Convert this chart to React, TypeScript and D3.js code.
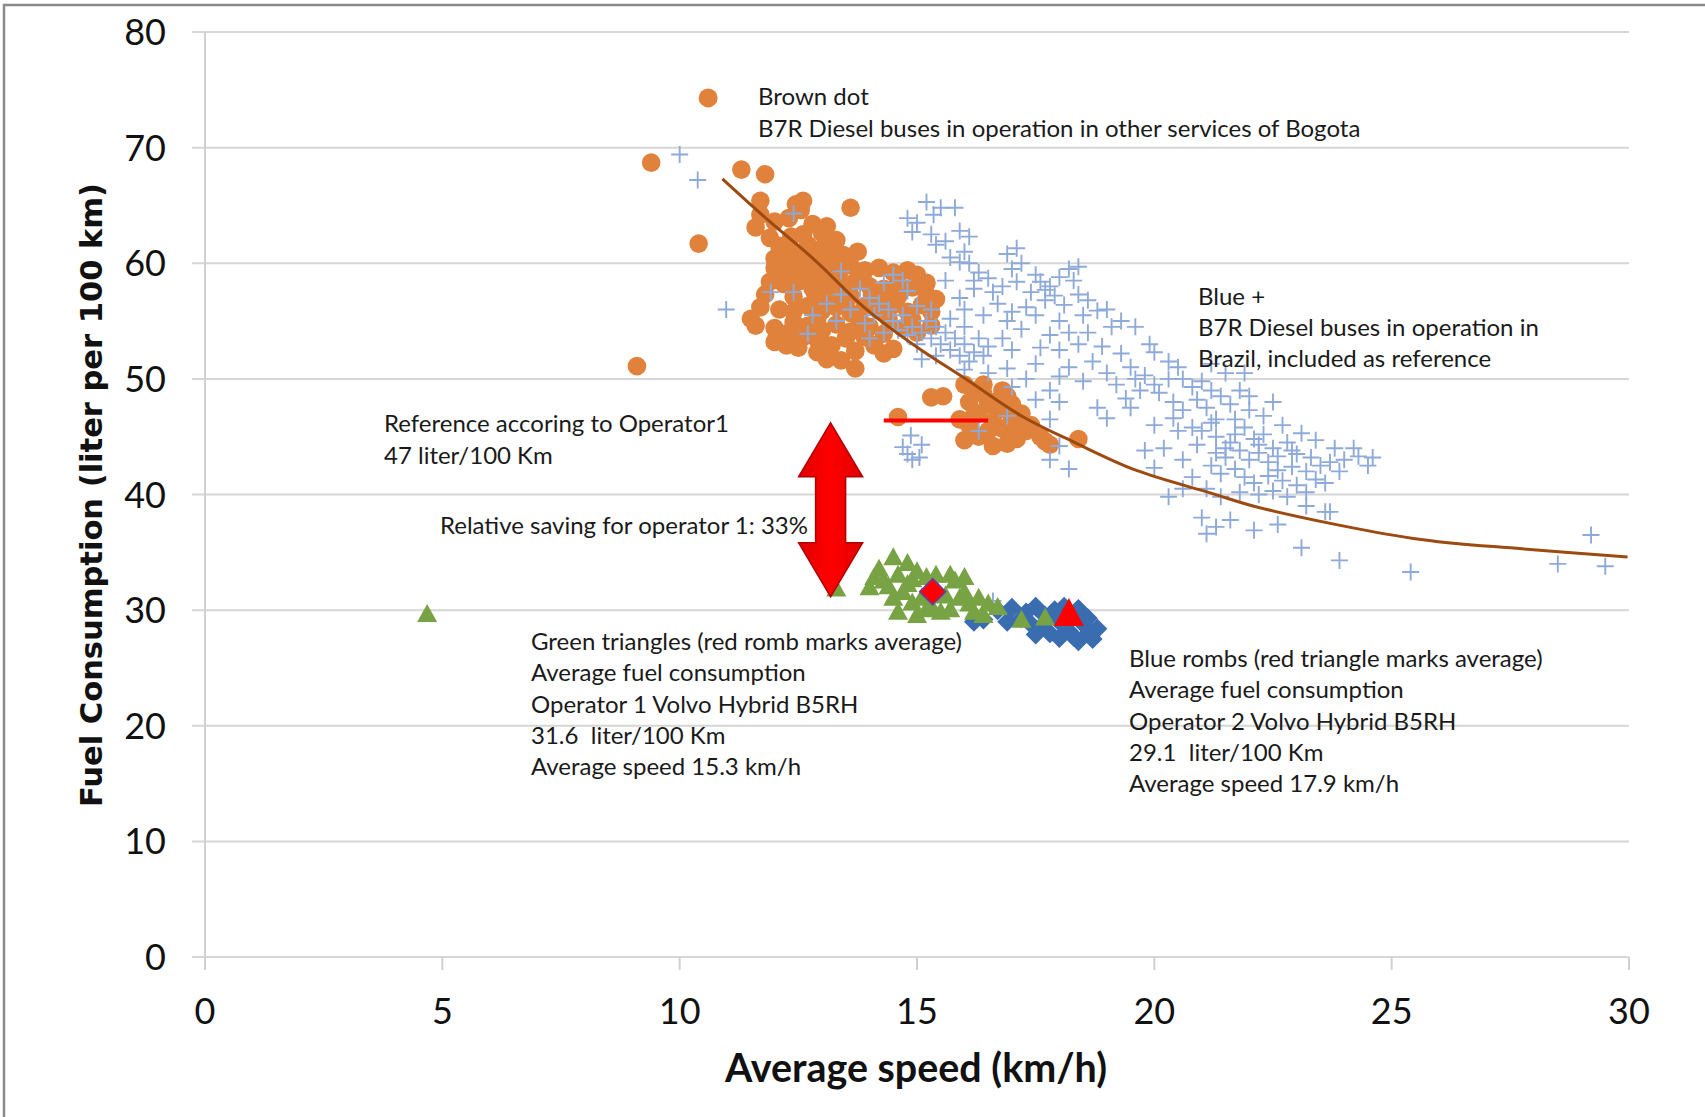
import React from "react";
import * as d3 from "d3";

const X_TICKS = [0, 5, 10, 15, 20, 25, 30];
const Y_TICKS = [0, 10, 20, 30, 40, 50, 60, 70, 80];

// Brown dots: B7R Diesel buses in other services of Bogota [speed, consumption]
const brownDots: [number, number][] = [
  [9.4, 68.7], [10.4, 61.7], [9.1, 51.1], [11.3, 68.1], [11.8, 67.7], [13.6, 64.8],
  [11.7, 65.4], [12.45, 65.1], [12.6, 65.4], [12.55, 64.6],
  [11.7, 64.2], [11.6, 63.1], [12.0, 63.6], [12.3, 63.9], [12.8, 63.4], [13.1, 63.2], [13.0, 62.6], [12.6, 62.5], [11.9, 62.2],
  [12.1, 61.5], [12.4, 61.0], [12.7, 61.6], [13.0, 61.3], [13.3, 62.0], [12.2, 60.5], [12.9, 60.2], [13.2, 60.6],
  [12.0, 59.6], [12.3, 59.3], [12.6, 59.8], [12.9, 59.2], [13.3, 59.5], [13.6, 59.8], [13.9, 59.4], [14.2, 59.6], [14.5, 59.2], [14.8, 59.4], [15.0, 59.0],
  [12.2, 58.2], [12.5, 58.4], [12.8, 57.8], [13.1, 58.3], [13.4, 57.7], [13.7, 58.4], [14.0, 58.0], [14.3, 57.8], [14.6, 58.2], [14.9, 57.9], [15.2, 58.3], [12.4, 57.1], [13.0, 57.0], [13.6, 57.2],
  [11.8, 57.3], [11.7, 56.2], [12.1, 56.0], [12.4, 55.8], [12.7, 56.3], [13.0, 55.9], [13.3, 56.2], [13.6, 55.7], [13.9, 56.3], [14.2, 55.9], [14.5, 56.4], [14.8, 55.8], [15.1, 56.4], [15.3, 55.8], [11.5, 55.2], [15.4, 56.9],
  [11.6, 54.6], [12.0, 54.4], [12.3, 54.0], [12.7, 54.6], [13.0, 54.2], [13.3, 54.7], [13.6, 54.1], [14.0, 54.5], [14.3, 53.9], [14.7, 54.4], [15.0, 54.0], [15.3, 54.6], [12.9, 53.4], [13.5, 53.5],
  [12.0, 53.2], [12.5, 52.7], [12.9, 52.3], [13.2, 52.9], [13.7, 52.4], [14.1, 52.9], [14.5, 52.6], [13.7, 50.9], [13.4, 51.6],
  [12.35, 62.3], [12.75, 60.8], [13.05, 60.0], [12.45, 59.9], [12.15, 58.8], [12.6, 58.9], [13.35, 58.9], [13.85, 58.8], [13.2, 57.5],
  [12.85, 56.8], [13.5, 56.6], [14.05, 57.3], [14.6, 57.1], [14.25, 56.8], [12.9, 55.2], [12.4, 54.9], [13.8, 55.0], [14.4, 55.2],
  [14.9, 55.1], [15.2, 57.3], [13.9, 53.6], [12.6, 53.6], [12.25, 52.9], [13.1, 51.7], [14.3, 52.2], [11.9, 58.4], [12.0, 60.4],
  [12.55, 60.2], [13.45, 60.7], [13.75, 61.0],
  [14.6, 46.7], [15.3, 48.4], [15.55, 48.5],
  [16.0, 49.5], [16.2, 49.0], [16.4, 48.7], [16.1, 48.0], [16.5, 47.8], [16.3, 47.0], [16.7, 47.3], [16.9, 48.5], [16.6, 46.3], [16.8, 45.7],
  [17.0, 46.5], [17.2, 47.0], [17.3, 45.5], [17.1, 44.8], [16.9, 44.4], [16.6, 44.2], [16.3, 45.0], [16.1, 46.0], [16.0, 44.7], [15.9, 46.5],
  [16.4, 49.5], [16.8, 49.0], [17.0, 47.8], [17.4, 46.0], [17.6, 45.0], [17.8, 44.3], [17.7, 44.6], [18.4, 44.8],
  [16.2, 46.8], [16.5, 45.5], [16.7, 48.1], [17.1, 45.8],
];

// Blue crosses: B7R Diesel buses in Brazil
const bluePlus: [number, number][] = [
  [10.0, 69.4], [10.38, 67.2], [10.98, 56.0], [11.92, 57.5], [12.4, 64.3],
  [13.8, 57.8], [14.0, 57.0], [14.2, 56.5], [14.4, 56.0], [14.1, 55.5], [14.5, 55.0], [14.7, 55.5], [14.9, 54.5], [15.1, 54.0], [15.3, 53.5],
  [15.5, 53.0], [15.7, 52.5], [15.0, 53.0], [14.8, 53.8], [14.6, 54.2], [15.2, 55.0], [15.4, 54.5], [15.6, 54.0], [15.8, 53.5], [16.0, 53.0],
  [15.9, 52.0], [16.1, 51.5], [14.3, 54.0], [13.6, 56.0], [13.9, 54.8], [14.0, 53.5], [13.3, 55.0], [13.1, 56.5], [12.8, 55.5], [12.4, 57.5],
  [12.7, 53.9], [13.4, 57.3], [14.3, 58.3], [14.8, 57.6], [15.0, 56.3], [16.3, 53.5], [16.5, 52.8], [16.2, 52.3], [15.4, 52.0], [15.1, 51.7], [16.0, 54.5],
  [15.2, 65.3], [15.5, 64.8], [15.8, 64.8], [15.35, 64.2], [14.8, 63.9], [15.0, 63.5], [14.9, 62.7], [15.3, 62.5], [15.9, 62.8], [15.6, 61.9],
  [15.4, 61.6], [16.0, 61.0], [15.7, 60.5], [16.1, 60.0], [15.9, 60.1], [16.3, 59.2], [16.5, 58.7], [16.2, 58.5], [16.6, 57.5], [16.2, 57.8],
  [17.1, 61.3], [17.0, 59.5], [16.8, 58.0], [17.1, 58.4], [17.4, 57.5], [17.6, 58.4], [17.7, 57.7], [17.8, 58.0], [17.9, 57.2], [18.0, 58.8],
  [18.2, 59.5], [18.4, 59.7], [18.3, 58.5], [18.4, 57.3], [18.1, 56.4], [17.7, 56.8], [17.3, 56.2], [17.0, 55.8], [16.7, 56.5], [16.4, 55.5],
  [16.9, 55.0], [17.5, 55.5], [18.0, 55.0], [18.5, 55.5], [18.8, 55.9], [19.1, 54.5], [18.6, 54.0], [18.2, 54.0], [17.8, 53.8], [17.2, 54.3],
  [16.8, 53.5], [17.0, 52.5], [17.6, 52.7], [18.0, 52.5], [18.4, 53.0], [18.9, 52.8], [19.3, 52.2], [18.7, 51.5], [18.2, 51.0], [17.5, 51.3],
  [16.9, 50.9], [17.3, 50.0], [18.0, 50.2], [18.5, 49.8], [19.0, 50.5], [19.5, 51.0], [19.8, 50.3], [19.2, 49.5], [17.8, 49.0], [16.5, 50.5],
  [16.0, 50.8], [17.5, 48.2], [18.0, 48.0], [17.0, 49.3], [18.8, 47.5], [19.4, 48.3], [16.4, 52.0], [15.9, 57.0], [16.0, 56.0], [15.6, 58.5],
  [16.1, 62.3], [14.5, 59.0], [14.7, 58.5], [13.4, 59.3], [16.9, 60.8], [17.2, 60.0], [17.5, 59.0], [18.6, 56.8], [19.0, 56.0], [19.3, 55.0],
  [19.6, 54.5], [19.9, 53.0], [20.0, 52.3], [20.3, 51.5], [20.5, 51.0], [20.6, 50.0], [20.8, 49.3], [21.0, 49.8], [21.2, 49.0], [19.7, 49.0],
  [20.1, 48.8], [20.4, 48.0], [20.6, 47.3], [20.9, 48.2], [21.1, 47.5], [21.4, 48.5], [21.6, 47.8], [21.3, 46.5], [19.5, 47.5], [19.0, 46.6],
  [20.0, 46.0], [20.3, 50.0], [20.0, 49.5], [19.6, 50.0], [20.8, 45.8], [21.5, 50.5], [21.2, 51.3], [21.8, 49.0], [22.0, 48.5], [17.8, 46.5],
  [16.9, 46.8], [16.3, 45.5], [17.8, 43.0], [18.2, 42.2], [18.0, 44.2],
  [14.7, 44.1], [15.05, 43.2], [14.87, 45.1], [14.8, 43.5], [15.1, 44.3], [14.9, 43.0],
  [21.0, 45.5], [21.3, 45.0], [21.6, 44.5], [21.9, 45.8], [22.1, 44.8], [22.3, 45.2], [22.5, 44.0], [22.8, 44.5], [23.0, 43.5], [21.5, 43.2],
  [21.8, 43.8], [22.0, 43.0], [22.2, 43.6], [22.4, 42.8], [22.6, 43.3], [22.9, 42.4], [23.2, 42.0], [23.5, 42.5], [23.3, 43.2], [21.2, 42.5],
  [21.4, 41.8], [21.7, 42.2], [21.9, 41.5], [22.1, 41.0], [22.4, 41.6], [22.7, 41.2], [23.0, 40.8], [23.4, 41.3], [23.7, 42.8], [24.0, 43.0],
  [24.3, 43.3], [24.6, 43.2], [24.5, 42.5], [23.9, 42.0], [23.6, 41.0], [23.2, 40.2], [22.8, 39.8], [22.5, 40.3], [21.1, 40.5], [21.4, 39.8],
  [21.8, 40.2], [20.8, 41.5], [20.6, 43.0], [20.9, 44.3], [21.2, 46.2], [21.7, 46.5], [22.3, 46.8], [22.7, 46.0], [23.1, 45.3], [23.4, 44.7],
  [23.8, 44.0], [24.2, 44.0], [21.0, 38.0], [21.3, 37.2], [21.6, 37.8], [22.1, 36.9], [22.6, 37.4], [23.2, 39.0], [23.6, 38.5], [20.2, 44.0],
  [20.5, 45.5], [20.0, 42.3], [19.8, 43.8], [20.3, 39.8], [20.6, 40.5], [21.1, 36.6], [23.1, 35.4], [23.9, 34.3], [23.7, 38.5], [25.4, 33.3],
  [28.5, 34.0], [29.2, 36.5], [29.5, 33.8], [22.0, 47.3], [22.5, 48.0], [21.9, 50.5], [22.2, 40.0], [16.6, 30.8],
  [21.5, 44.0], [22.2, 44.3], [21.7, 45.2], [22.6, 42.1], [21.3, 43.6], [22.9, 43.8], [20.4, 46.6], [15.3, 56.0], [15.7, 55.2],
];

// Green triangles: Operator 1 Volvo Hybrid B5RH
const greenTriangles: [number, number][] = [
  [4.68, 29.6], [13.3, 31.8], [14.0, 31.9], [14.2, 33.5], [14.5, 34.5], [14.3, 32.5], [14.6, 33.0], [14.8, 32.2], [14.7, 31.5], [15.0, 33.3],
  [15.2, 32.8], [15.4, 33.0], [15.1, 31.0], [14.9, 30.6], [15.3, 30.3], [15.6, 31.2], [15.8, 32.5], [15.7, 30.0], [16.0, 31.5], [16.1, 30.5],
  [16.3, 31.0], [15.5, 29.8], [14.5, 31.0], [14.4, 32.0], [14.8, 34.0], [15.9, 31.0], [16.5, 30.5], [16.7, 30.2], [17.2, 29.1], [17.7, 29.3],
  [16.2, 29.8], [15.0, 29.5], [14.6, 29.8], [15.4, 31.8], [16.0, 32.8], [15.7, 33.0], [14.9, 32.6], [14.1, 32.8], [15.2, 30.0], [16.4, 29.5],
];

// Blue rombs: Operator 2 Volvo Hybrid B5RH
const blueRombs: [number, number][] = [
  [16.4, 29.2], [16.7, 30.0], [17.0, 30.2], [17.3, 29.8], [17.5, 30.3], [17.7, 29.5], [17.6, 28.5], [17.8, 28.0], [18.0, 29.0], [18.1, 30.3],
  [18.3, 29.5], [18.4, 30.1], [18.5, 28.8], [18.2, 28.2], [18.0, 27.6], [18.3, 27.7], [18.6, 28.0], [18.8, 28.4], [18.6, 29.3], [17.9, 30.0],
  [17.4, 28.8], [17.2, 29.3], [16.9, 29.0], [18.7, 27.5], [17.5, 27.9], [18.4, 27.3], [16.2, 29.0],
];

// Averages
const op1Average: [number, number] = [15.33, 31.6];
const op2Average: [number, number] = [18.2, 29.6];

// Trend line for the brown dots
const trendCurve: [number, number][] = [
  [10.9, 67.3], [11.87, 63.7], [12.84, 60.3], [13.91, 56.1], [14.98, 52.8], [16.06, 49.9], [17.24, 46.7],
  [18.32, 44.5], [19.61, 42.1], [21.21, 40.1], [22.18, 38.9], [25.46, 36.2], [27.75, 35.3], [29.97, 34.6],
];

// Reference line (Operator 1) and saving arrow
const referenceLine: [number, number][] = [[14.3, 46.4], [16.5, 46.4]];
const savingArrow = { x: 13.18, top: 46.2, bottom: 31.15 };

const legendDot: [number, number] = [10.6, 74.3];

const brownDotText = ["Brown dot", "B7R Diesel buses in operation in other services of Bogota"];
const bluePlusText = ["Blue +", "B7R Diesel buses in operation in", "Brazil, included as reference"];
const referenceText = ["Reference accoring to Operator1", "47 liter/100 Km"];
const savingText = ["Relative saving for operator 1: 33%"];
const greenText = [
  "Green triangles (red romb marks average)",
  "Average fuel consumption",
  "Operator 1 Volvo Hybrid B5RH",
  "31.6  liter/100 Km",
  "Average speed 15.3 km/h",
];
const blueText = [
  "Blue rombs (red triangle marks average)",
  "Average fuel consumption",
  "Operator 2 Volvo Hybrid B5RH",
  "29.1  liter/100 Km",
  "Average speed 17.9 km/h",
];

const W = 1705;
const H = 1117;
const LEFT = 205;
const RIGHT = 1629;
const TOP = 32;
const BOTTOM = 957;

const FONT = "Lato, 'Open Sans', sans-serif";
const ANN_SIZE = 24;

function diamondPath(cx: number, cy: number, r: number) {
  return `M${cx},${cy - r}L${cx + r},${cy}L${cx},${cy + r}L${cx - r},${cy}Z`;
}
function plusPath(cx: number, cy: number, r: number) {
  return `M${cx - r},${cy}H${cx + r}M${cx},${cy - r}V${cy + r}`;
}
function trianglePath(cx: number, cy: number, w: number, h: number) {
  return `M${cx},${cy - h * 0.6}L${cx + w / 2},${cy + h * 0.4}L${cx - w / 2},${cy + h * 0.4}Z`;
}

function TextBlock({ lines, x, y, dy, size }: { lines: string[]; x: number; y: number; dy: number; size: number }) {
  return (
    <g>
      {lines.map((t, i) => (
        <text key={i} x={x} y={y + i * dy} fontFamily={FONT} fontSize={size} fill="#1a1a1a" style={{ whiteSpace: "pre" }}>
          {t}
        </text>
      ))}
    </g>
  );
}

export default function App() {
  const x = d3.scaleLinear().domain([0, 30]).range([LEFT, RIGHT]);
  const y = d3.scaleLinear().domain([0, 80]).range([BOTTOM, TOP]);

  const line = d3
    .line<[number, number]>()
    .x((d) => x(d[0]))
    .y((d) => y(d[1]))
    .curve(d3.curveCatmullRom.alpha(0.5));

  const ax = x(savingArrow.x);
  const aTop = y(savingArrow.top);
  const aBot = y(savingArrow.bottom);
  const shaftHalf = 15;
  const headHalf = 32;
  const headLen = 54;
  const arrowPath = [
    `M${ax},${aTop}`,
    `L${ax + headHalf},${aTop + headLen}`,
    `L${ax + shaftHalf},${aTop + headLen}`,
    `L${ax + shaftHalf},${aBot - headLen}`,
    `L${ax + headHalf},${aBot - headLen}`,
    `L${ax},${aBot}`,
    `L${ax - headHalf},${aBot - headLen}`,
    `L${ax - shaftHalf},${aBot - headLen}`,
    `L${ax - shaftHalf},${aTop + headLen}`,
    `L${ax - headHalf},${aTop + headLen}`,
    "Z",
  ].join("");

  return (
    <svg width={W} height={H} style={{ position: "absolute", left: 0, top: 0, background: "#fff" }}>
      <defs>
        <linearGradient id="arrowGrad" x1="0" x2="1" y1="0" y2="0">
          <stop offset="0" stopColor="#e00000" />
          <stop offset="0.5" stopColor="#ff0000" />
          <stop offset="1" stopColor="#e00000" />
        </linearGradient>
      </defs>
      <rect x={0} y={0} width={W} height={H} fill="#fff" />
      {/* outer frame (cropped) */}
      <path d={`M4,${H}V5H${W}`} fill="none" stroke="#8a8a8a" strokeWidth={2.5} />

      {/* gridlines */}
      {Y_TICKS.map((t) => (
        <line key={"g" + t} x1={LEFT - 13} x2={RIGHT} y1={y(t)} y2={y(t)} stroke="#d6d6d6" strokeWidth={2} />
      ))}
      <line x1={LEFT} x2={LEFT} y1={TOP} y2={BOTTOM} stroke="#d0d0d0" strokeWidth={2} />
      {X_TICKS.map((t) => (
        <line key={"xt" + t} x1={x(t)} x2={x(t)} y1={BOTTOM} y2={BOTTOM + 13} stroke="#d0d0d0" strokeWidth={2} />
      ))}

      {/* tick labels */}
      {Y_TICKS.map((t) => (
        <text key={"yl" + t} x={166} y={y(t) + 13} textAnchor="end" fontFamily={FONT} fontSize={36} fill="#111">
          {t}
        </text>
      ))}
      {X_TICKS.map((t) => (
        <text key={"xl" + t} x={x(t)} y={1024} textAnchor="middle" fontFamily={FONT} fontSize={36} fill="#111">
          {t}
        </text>
      ))}

      {/* axis titles */}
      <text x={916} y={1082} textAnchor="middle" fontFamily={FONT} fontWeight="bold" fontSize={40} fill="#111" textLength={382} lengthAdjust="spacingAndGlyphs">
        Average speed (km/h)
      </text>
      <text
        transform="translate(102,495) rotate(-90)"
        textAnchor="middle"
        fontFamily="'DejaVu Sans', Verdana, sans-serif"
        fontWeight="bold"
        fontSize={31}
        fill="#111"
        textLength={624}
        lengthAdjust="spacingAndGlyphs"
      >
        Fuel Consumption (liter per 100 km)
      </text>

      {/* brown dots */}
      {brownDots.map((d, i) => (
        <circle key={"b" + i} cx={x(d[0])} cy={y(d[1])} r={9.3} fill="#e0823c" />
      ))}
      {/* blue crosses */}
      {bluePlus.map((d, i) => (
        <path key={"p" + i} d={plusPath(x(d[0]), y(d[1]), 8.5)} stroke="#8eaad8" strokeWidth={1.9} fill="none" />
      ))}
      {/* blue rombs */}
      {blueRombs.map((d, i) => (
        <path key={"r" + i} d={diamondPath(x(d[0]), y(d[1]), 10)} fill="#3a6cb0" />
      ))}
      {/* green triangles */}
      {greenTriangles.map((d, i) => (
        <path key={"t" + i} d={trianglePath(x(d[0]), y(d[1]), 20, 18)} fill="#78a344" />
      ))}
      {/* averages */}
      <path d={diamondPath(x(op1Average[0]), y(op1Average[1]), 13)} fill="#ff0000" stroke="#6a3aa0" strokeWidth={1.5} />
      <path d={trianglePath(x(op2Average[0]), y(op2Average[1]), 30, 28)} fill="#ff0000" />

      {/* trend line */}
      <path d={line(trendCurve) || ""} fill="none" stroke="#9c4a10" strokeWidth={3} />

      {/* reference line */}
      <line
        x1={x(referenceLine[0][0])}
        x2={x(referenceLine[1][0])}
        y1={y(referenceLine[0][1])}
        y2={y(referenceLine[1][1])}
        stroke="#ff0000"
        strokeWidth={4}
      />

      {/* saving arrow */}
      <path d={arrowPath} fill="url(#arrowGrad)" stroke="#b00000" strokeWidth={1.5} />

      {/* legend dot */}
      <circle cx={x(legendDot[0])} cy={y(legendDot[1])} r={9.5} fill="#e0823c" />

      {/* annotations */}
      <TextBlock lines={brownDotText} x={758} y={105} dy={32} size={ANN_SIZE} />
      <TextBlock lines={bluePlusText} x={1198} y={305} dy={31} size={ANN_SIZE} />
      <TextBlock lines={referenceText} x={384} y={432} dy={32} size={ANN_SIZE} />
      <TextBlock lines={savingText} x={440} y={534} dy={32} size={ANN_SIZE} />
      <TextBlock lines={greenText} x={531} y={650} dy={31.3} size={ANN_SIZE} />
      <TextBlock lines={blueText} x={1129} y={667} dy={31.3} size={ANN_SIZE} />
    </svg>
  );
}
